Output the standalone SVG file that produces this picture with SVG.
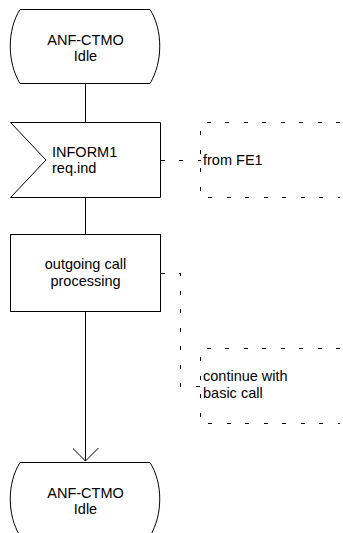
<svg xmlns="http://www.w3.org/2000/svg" width="343" height="533" viewBox="0 0 343 533">
  <style>
    .shape { fill: #ffffff; stroke: #000000; stroke-width: 1; }
    .flow { fill: none; stroke: #000000; stroke-width: 1; }
    .dash { fill: none; stroke: #000000; stroke-width: 1; stroke-dasharray: 4 14.5; shape-rendering: crispEdges; }
    text { font-family: "Liberation Sans", Arial, sans-serif; font-size: 14.5px; fill: #000000; }
    .c { text-anchor: middle; }
  </style>
  <defs>
    <marker id="openArrow" markerWidth="26" markerHeight="26" refX="13" refY="13" orient="auto" markerUnits="userSpaceOnUse">
      <path d="M0,0 L13,13 L0,26" fill="none" stroke="#000000" stroke-width="1"/>
    </marker>
  </defs>

  <!-- flow connectors and comment links -->
  <g id="connectors">
    <line class="flow" x1="85.5" y1="83" x2="85.5" y2="122"/>
    <line class="flow" x1="85.5" y1="197" x2="85.5" y2="234"/>
    <line class="flow" x1="85.5" y1="311" x2="85.5" y2="461" marker-end="url(#openArrow)"/>
    <path class="dash" d="M160.5,160.5 H200.5"/>
    <path class="dash" d="M160.5,273.5 H180.5 V386.5 H200.5"/>
  </g>

  <!-- start state -->
  <g id="state-idle-top">
    <path class="shape" d="M20,9.5 H150 C163,30 163,62 150,83.5 H20 C7,62 7,30 20,9.5 Z"/>
    <text class="c" x="85.5" y="45">ANF-CTMO</text>
    <text class="c" x="85.5" y="61">Idle</text>
  </g>

  <!-- input signal -->
  <g id="input-inform1">
    <path class="shape" d="M10.5,122.5 H160.5 V197.5 H10.5 L46,160 Z"/>
    <text x="52" y="157">INFORM1</text>
    <text x="52" y="173">req.ind</text>
  </g>

  <!-- comment: from FE1 -->
  <g id="comment-fe1">
    <path class="dash" d="M340,122.5 H200.5 V197.5 H340"/>
    <text x="203" y="165">from FE1</text>
  </g>

  <!-- task -->
  <g id="task-outgoing">
    <rect class="shape" x="10.5" y="234.5" width="150" height="77"/>
    <text class="c" x="85.5" y="269">outgoing call</text>
    <text class="c" x="85.5" y="286">processing</text>
  </g>

  <!-- comment: continue with basic call -->
  <g id="comment-basic">
    <path class="dash" d="M340,348.5 H200.5 V423.5 H340"/>
    <text x="203" y="381">continue with</text>
    <text x="203" y="398">basic call</text>
  </g>

  <!-- next state -->
  <g id="state-idle-bottom">
    <path class="shape" d="M20,462.5 H150 C163,483 163,515 150,536 H20 C7,515 7,483 20,462.5 Z"/>
    <text class="c" x="85.5" y="498">ANF-CTMO</text>
    <text class="c" x="85.5" y="514">Idle</text>
  </g>
</svg>
